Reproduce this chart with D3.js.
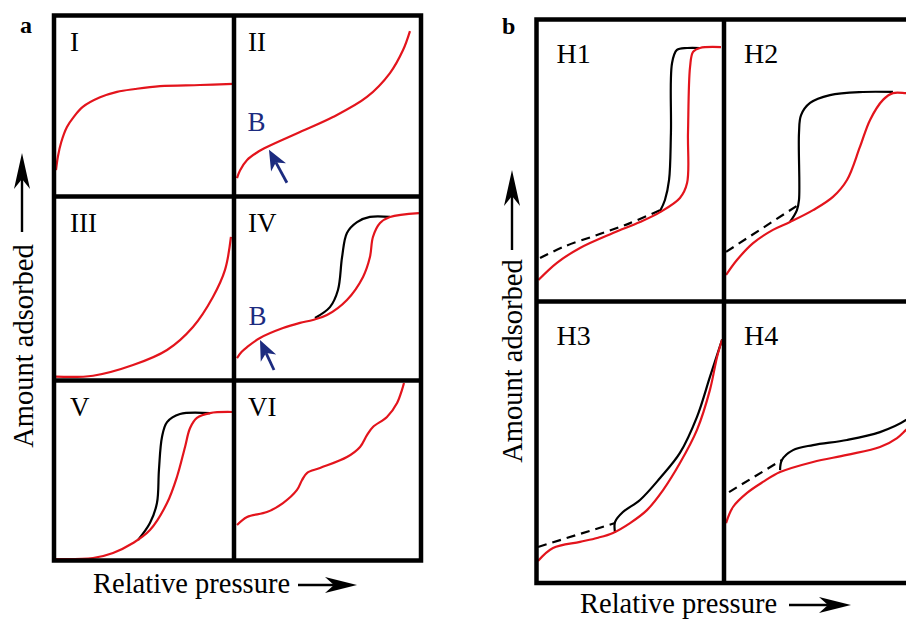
<!DOCTYPE html>
<html><head><meta charset="utf-8">
<script src="https://cdn.jsdelivr.net/npm/d3@7"></script>
<style>html,body{margin:0;padding:0;background:#fff;}svg{display:block;}
svg text{font-family:"Liberation Serif","DejaVu Serif","Times New Roman",Times,serif;}</style>
</head><body>
<svg id="c" width="906" height="619"></svg>
<script>
// ---- Data (normalized within each cell: x = relative pressure 0..1, y = amount adsorbed 0..1) ----
const panelALabels = ["I","II","III","IV","V","VI"];
const panelBLabels = ["H1","H2","H3","H4"];
const axisLabelY = "Amount adsorbed";
const axisLabelX = "Relative pressure";

const typeI = [[0.011,0.146],[0.022,0.222],[0.040,0.300],[0.072,0.384],[0.110,0.440],[0.160,0.495],[0.256,0.548],[0.350,0.578],[0.450,0.594],[0.589,0.610],[0.811,0.616],[0.995,0.622]];
const typeII = [[0.016,0.102],[0.032,0.144],[0.070,0.202],[0.123,0.243],[0.176,0.273],[0.353,0.356],[0.529,0.439],[0.711,0.550],[0.834,0.682],[0.904,0.809],[0.941,0.914]];
const typeIII = [[0.011,0.021],[0.217,0.026],[0.439,0.084],[0.628,0.166],[0.772,0.291],[0.883,0.454],[0.950,0.601],[0.983,0.780]];
const typeIVads = [[0.016,0.122],[0.040,0.155],[0.070,0.182],[0.139,0.231],[0.262,0.285],[0.353,0.313],[0.422,0.329],[0.497,0.356],[0.604,0.438],[0.690,0.563],[0.727,0.671],[0.743,0.780],[0.781,0.856],[0.834,0.889],[0.989,0.910]];
const typeIVdes = [[0.433,0.340],[0.513,0.399],[0.556,0.492],[0.578,0.671],[0.604,0.802],[0.658,0.861],[0.727,0.889],[0.834,0.889]];
const typeVads = [[0.011,0.008],[0.217,0.014],[0.328,0.042],[0.439,0.097],[0.533,0.169],[0.628,0.319],[0.683,0.464],[0.728,0.631],[0.756,0.736],[0.794,0.792],[0.867,0.819],[0.989,0.825]];
const typeVdes = [[0.467,0.114],[0.533,0.208],[0.572,0.319],[0.583,0.503],[0.600,0.686],[0.628,0.769],[0.700,0.814],[0.867,0.819]];
const typeVI = [[0.016,0.197],[0.070,0.242],[0.176,0.269],[0.262,0.319],[0.337,0.392],[0.364,0.447],[0.390,0.486],[0.460,0.514],[0.604,0.575],[0.674,0.631],[0.711,0.697],[0.743,0.742],[0.818,0.797],[0.872,0.875],[0.898,0.947],[0.909,0.986]];

const h1ads = [[0.010,0.076],[0.109,0.137],[0.232,0.190],[0.408,0.243],[0.552,0.282],[0.659,0.317],[0.765,0.367],[0.803,0.420],[0.808,0.598],[0.819,0.832],[0.835,0.885],[0.872,0.899],[0.984,0.902]];
const h1des = [[0.659,0.321],[0.685,0.360],[0.707,0.431],[0.717,0.598],[0.723,0.846],[0.749,0.892],[0.803,0.899],[0.872,0.899]];
const h1low = [[0.019,0.154],[0.141,0.193],[0.323,0.236],[0.499,0.278],[0.659,0.324]];
const h2ads = [[0.011,0.094],[0.069,0.147],[0.155,0.207],[0.261,0.254],[0.352,0.282],[0.475,0.324],[0.581,0.371],[0.656,0.431],[0.725,0.548],[0.779,0.644],[0.848,0.715],[0.901,0.739],[0.971,0.739],[1.0,0.739]];
const h2des = [[0.352,0.282],[0.389,0.324],[0.400,0.360],[0.400,0.598],[0.411,0.661],[0.459,0.704],[0.565,0.732],[0.741,0.743],[0.901,0.743]];
const h2low = [[0.011,0.176],[0.395,0.342]];
const h3ads = [[0.008,0.078],[0.088,0.124],[0.232,0.146],[0.323,0.160],[0.408,0.178],[0.499,0.213],[0.589,0.259],[0.675,0.330],[0.765,0.426],[0.856,0.544],[0.925,0.686],[0.963,0.803],[0.990,0.865]];
const h3des = [[0.419,0.178],[0.419,0.217],[0.461,0.252],[0.552,0.295],[0.659,0.373],[0.765,0.462],[0.856,0.590],[0.925,0.732],[0.990,0.865]];
const h3low = [[0.008,0.128],[0.419,0.213]];
const h4ads = [[0.011,0.213],[0.048,0.270],[0.123,0.320],[0.208,0.359],[0.299,0.394],[0.475,0.430],[0.656,0.455],[0.832,0.483],[0.923,0.515],[0.971,0.544],[1.0,0.561]];
const h4des = [[0.299,0.401],[0.309,0.437],[0.368,0.472],[0.475,0.490],[0.656,0.508],[0.832,0.536],[0.971,0.579],[1.0,0.597]];
const h4low = [[0.027,0.323],[0.309,0.437]];

// B-point markers (type II and IV): label position and arrow start/tip, normalized
const bMarkII = {label:[0.072,0.36], from:[0.283,0.076], to:[0.187,0.258]};
const bMarkIV = {label:[0.078,0.30], from:[0.214,0.057], to:[0.139,0.220]};

// ---- Layout ----
const RED = "#e3141c", BLUE = "#1c2b7f", BLACK = "#000";
const svg = d3.select("#c");

const aCols = [54, 234, 421], aRows = [15.5, 196.5, 380.5, 560.5];
const bCols = [536.5, 724, 911.5], bRows = [19.5, 301.5, 583];

function cell(cols, rows, c, r) {
  return {
    x: d3.scaleLinear().domain([0,1]).range([cols[c], cols[c+1]]),
    y: d3.scaleLinear().domain([0,1]).range([rows[r+1], rows[r]])
  };
}
function drawLine(sc, data, color, dash) {
  const line = d3.line().x(d => sc.x(d[0])).y(d => sc.y(d[1])).curve(d3.curveCatmullRom.alpha(0.5));
  svg.append("path").attr("d", line(data)).attr("fill","none")
    .attr("stroke", color).attr("stroke-width", 2.2)
    .attr("stroke-linejoin","round").attr("stroke-linecap","butt")
    .attr("stroke-dasharray", dash ? "9,6" : null);
}
function arrowHead(x1, y1, x2, y2, len, hw, color, lw) {
  const ang = Math.atan2(y2 - y1, x2 - x1);
  const ux = Math.cos(ang), uy = Math.sin(ang), px = -uy, py = ux;
  const bx = x2 - ux*len, by = y2 - uy*len;
  const nx = x2 - ux*len*0.72, ny = y2 - uy*len*0.72;
  svg.append("path").attr("d",
    `M${x2},${y2} L${bx+px*hw},${by+py*hw} L${nx},${ny} L${bx-px*hw},${by-py*hw} Z`)
    .attr("fill", color);
  svg.append("line").attr("x1",x1).attr("y1",y1).attr("x2",nx).attr("y2",ny)
    .attr("stroke",color).attr("stroke-width",lw || 2.2);
}
function bMarker(sc, m) {
  svg.append("text").attr("x", sc.x(m.label[0])).attr("y", sc.y(m.label[1]))
    .attr("font-size", 27).attr("fill", BLUE).text("B");
  arrowHead(sc.x(m.from[0]), sc.y(m.from[1]), sc.x(m.to[0]), sc.y(m.to[1]), 20, 8.5, BLUE, 2.8);
}

// Panel a curves
const aSeries = [
  [[typeI, RED]],
  [[typeII, RED]],
  [[typeIII, RED]],
  [[typeIVdes, BLACK],[typeIVads, RED]],
  [[typeVdes, BLACK],[typeVads, RED]],
  [[typeVI, RED]]
];
aSeries.forEach((ser, i) => {
  const sc = cell(aCols, aRows, i % 2, Math.floor(i/2));
  ser.forEach(s => drawLine(sc, s[0], s[1]));
  svg.append("text").attr("x", sc.x(0) + (i%2 ? 14 : 16)).attr("y", sc.y(1) + 35)
    .attr("font-size", 27).attr("fill", BLACK).text(panelALabels[i]);
});
bMarker(cell(aCols, aRows, 1, 0), bMarkII);
bMarker(cell(aCols, aRows, 1, 1), bMarkIV);

// Panel b curves
const bSeries = [
  [[h1low, BLACK, true],[h1des, BLACK],[h1ads, RED]],
  [[h2low, BLACK, true],[h2des, BLACK],[h2ads, RED]],
  [[h3low, BLACK, true],[h3des, BLACK],[h3ads, RED]],
  [[h4low, BLACK, true],[h4des, BLACK],[h4ads, RED]]
];
bSeries.forEach((ser, i) => {
  const sc = cell(bCols, bRows, i % 2, Math.floor(i/2));
  ser.forEach(s => drawLine(sc, s[0], s[1], s[2]));
  svg.append("text").attr("x", sc.x(0) + 20).attr("y", sc.y(1) + 43)
    .attr("font-size", 28).attr("fill", BLACK).text(panelBLabels[i]);
});

// Frames
function frame(cols, rows) {
  const g = svg.append("g").attr("stroke", BLACK).attr("stroke-width", 4.5).attr("fill","none");
  g.append("rect").attr("x", cols[0]).attr("y", rows[0])
    .attr("width", cols[cols.length-1]-cols[0]).attr("height", rows[rows.length-1]-rows[0]);
  cols.slice(1,-1).forEach(c => g.append("line").attr("x1",c).attr("x2",c).attr("y1",rows[0]).attr("y2",rows[rows.length-1]));
  rows.slice(1,-1).forEach(r => g.append("line").attr("y1",r).attr("y2",r).attr("x1",cols[0]).attr("x2",cols[cols.length-1]));
}
frame(aCols, aRows);
frame(bCols, bRows);

// Panel letters
svg.append("text").attr("x", 20).attr("y", 33).attr("font-weight","bold").attr("font-size", 24).text("a");
svg.append("text").attr("x", 502).attr("y", 34).attr("font-weight","bold").attr("font-size", 24).text("b");

// Axis labels
function yLabel(x, cy, ax, ay1, ay2) {
  svg.append("text").attr("transform", `translate(${x},${cy}) rotate(-90)`)
    .attr("text-anchor","middle").attr("font-size", 28.5).text(axisLabelY);
  arrowHead(ax, ay1, ax, ay2, 36, 8, BLACK, 2.4);
}
function xLabel(x, y, ax1, ax2, ay) {
  svg.append("text").attr("x", x).attr("y", y).attr("font-size", 28.5).text(axisLabelX);
  arrowHead(ax1, ay, ax2, ay, 32, 8, BLACK, 2.4);
}
yLabel(33, 346, 22, 232, 153);
yLabel(522, 361, 512, 250, 170);
xLabel(93, 593, 298, 357, 585);
xLabel(580, 613, 789, 851, 605);
</script>
</body></html>
